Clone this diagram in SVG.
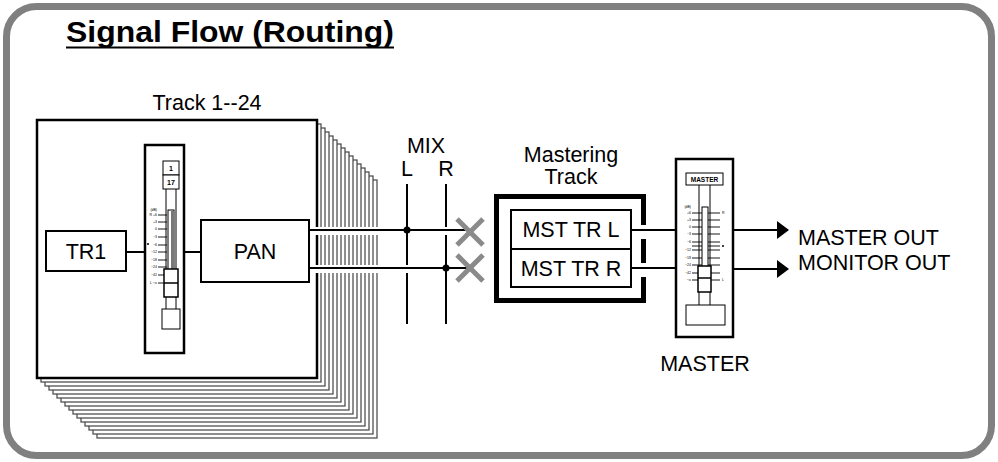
<svg xmlns="http://www.w3.org/2000/svg" width="998" height="462" viewBox="0 0 998 462">
<style>
text{font-family:"Liberation Sans",Arial,Helvetica,sans-serif;fill:#000}
.lbl{font-size:21.5px}
.mid{text-anchor:middle}
.tiny{font-size:3.5px}
.box{fill:#fff;stroke:#000;stroke-width:2}
.sheet{fill:#fff;stroke:#444;stroke-width:1.2}
.ln{stroke:#000;stroke-width:2;fill:none}
.thin{stroke:#000;stroke-width:1;fill:none}
.tick{stroke:#000;stroke-width:0.9}
.gap{fill:#fff;stroke:none}
.xm{stroke:#8a8a8a;stroke-width:5;stroke-linecap:butt}
</style>
<defs>
<marker id="arr" viewBox="0 0 12 18" refX="11" refY="9" markerWidth="12" markerHeight="18" markerUnits="userSpaceOnUse" orient="auto">
<path d="M0,0 L12,9 L0,18 Z" fill="#000"/>
</marker>
</defs>
<rect x="0" y="0" width="998" height="462" fill="#fff"/>
<rect x="6.5" y="6.5" width="985" height="449" rx="30" ry="30" fill="#fff" stroke="#808080" stroke-width="7"/>
<g id="title">
<text x="66" y="42" font-size="29" font-weight="bold" textLength="328" lengthAdjust="spacingAndGlyphs">Signal Flow (Routing)</text>
<line x1="66" y1="47.5" x2="394" y2="47.5" stroke="#000" stroke-width="2"/>
</g>
<g id="track">
<text class="lbl mid" x="207" y="110">Track 1--24</text>
<rect class="sheet" x="97" y="180" width="280" height="258"/>
<rect class="sheet" x="93" y="176" width="280" height="258"/>
<rect class="sheet" x="89" y="172" width="280" height="258"/>
<rect class="sheet" x="85" y="168" width="280" height="258"/>
<rect class="sheet" x="81" y="164" width="280" height="258"/>
<rect class="sheet" x="77" y="160" width="280" height="258"/>
<rect class="sheet" x="73" y="156" width="280" height="258"/>
<rect class="sheet" x="69" y="152" width="280" height="258"/>
<rect class="sheet" x="65" y="148" width="280" height="258"/>
<rect class="sheet" x="61" y="144" width="280" height="258"/>
<rect class="sheet" x="57" y="140" width="280" height="258"/>
<rect class="sheet" x="53" y="136" width="280" height="258"/>
<rect class="sheet" x="49" y="132" width="280" height="258"/>
<rect class="sheet" x="45" y="128" width="280" height="258"/>
<rect class="sheet" x="41" y="124" width="280" height="258"/>
<rect x="37" y="120" width="280" height="258" fill="#fff" stroke="#000" stroke-width="2.5"/>
</g>
<g id="tr1">
<rect class="box" x="46" y="231" width="80" height="40"/>
<text class="lbl mid" x="86" y="259">TR1</text>
</g>
<g id="track-fader">
<rect x="145" y="145" width="39" height="208" fill="#fff" stroke="#000" stroke-width="2.5"/>
<line class="thin" x1="166" y1="189" x2="166" y2="309"/>
<line class="thin" x1="176" y1="189" x2="176" y2="309"/>
<rect x="163" y="161" width="16" height="14" fill="#fff" stroke="#000" stroke-width="1"/>
<rect x="163" y="175" width="16" height="14" fill="#fff" stroke="#000" stroke-width="1"/>
<text x="171" y="171" font-size="7" font-weight="bold" text-anchor="middle">1</text>
<text x="171" y="185" font-size="7" font-weight="bold" text-anchor="middle">17</text>
<rect x="168" y="210" width="6" height="60" fill="#fff" stroke="#000" stroke-width="1"/>
<rect x="171" y="211" width="2.5" height="58" fill="#777"/>
<g class="tick">
<line x1="158" y1="215" x2="167" y2="215"/><line x1="158" y1="222" x2="167" y2="222"/>
<line x1="158" y1="229" x2="167" y2="229"/><line x1="158" y1="237" x2="167" y2="237"/>
<line x1="158" y1="245" x2="167" y2="245"/><line x1="158" y1="252" x2="167" y2="252"/>
<line x1="158" y1="260" x2="167" y2="260"/><line x1="158" y1="267" x2="167" y2="267"/>
<line x1="158" y1="275" x2="167" y2="275"/><line x1="158" y1="283" x2="167" y2="283"/>
</g>
<g class="tiny" text-anchor="end">
<text x="157" y="211">(dB)</text><text x="157" y="216">+6</text><text x="157" y="223">+3</text>
<text x="157" y="230">0</text><text x="157" y="238">−3</text><text x="157" y="246">−6</text>
<text x="157" y="253">−12</text><text x="157" y="261">−18</text><text x="157" y="268">−24</text>
<text x="157" y="276">−42</text><text x="157" y="284">−∞</text>
<text x="152" y="216">R</text><text x="152" y="284">L</text>
</g>
<circle cx="148" cy="244" r="1" fill="#000"/>
<rect x="164" y="269" width="14" height="28" fill="#fff" stroke="#000" stroke-width="1.5"/>
<line x1="164" y1="283" x2="178" y2="283" stroke="#000" stroke-width="1.5"/>
<rect x="162" y="309" width="18" height="20" fill="#fff" stroke="#000" stroke-width="1"/>
</g>
<g id="pan">
<rect class="box" x="201" y="220" width="108" height="62"/>
<text class="lbl mid" x="255" y="259">PAN</text>
</g>
<g id="mix">
<text class="lbl mid" x="426" y="153">MIX</text>
<text class="lbl mid" x="407" y="176">L</text>
<text class="lbl mid" x="446" y="176">R</text>
</g>
<g id="mastering-track">
<text class="lbl mid" x="571" y="162">Mastering</text>
<text class="lbl mid" x="571" y="184">Track</text>
<rect x="496.5" y="196.5" width="147" height="104" fill="#fff" stroke="#000" stroke-width="5"/>
<rect class="box" x="511" y="210" width="120" height="39"/>
<rect class="box" x="511" y="249" width="120" height="38"/>
<text class="lbl mid" x="571" y="237">MST TR L</text>
<text class="lbl mid" x="571" y="276">MST TR R</text>
</g>
<g id="master-fader">
<rect x="676" y="159" width="57" height="178" fill="#fff" stroke="#000" stroke-width="2.5"/>
<line class="thin" x1="699" y1="185" x2="699" y2="305"/>
<line class="thin" x1="710" y1="185" x2="710" y2="305"/>
<rect x="686" y="173" width="37" height="12" fill="#fff" stroke="#000" stroke-width="1"/>
<text x="704.5" y="182" font-size="6.5" font-weight="bold" text-anchor="middle">MASTER</text>
<rect x="702" y="207" width="6" height="60" fill="#fff" stroke="#000" stroke-width="1"/>
<g class="tick">
<line x1="692" y1="213" x2="702" y2="213"/><line x1="692" y1="220" x2="702" y2="220"/>
<line x1="692" y1="227" x2="702" y2="227"/><line x1="692" y1="234" x2="702" y2="234"/>
<line x1="692" y1="242" x2="702" y2="242"/><line x1="692" y1="250" x2="702" y2="250"/>
<line x1="692" y1="258" x2="702" y2="258"/><line x1="692" y1="265" x2="702" y2="265"/>
<line x1="692" y1="273" x2="702" y2="273"/><line x1="692" y1="280" x2="702" y2="280"/>
<line x1="708" y1="213" x2="720" y2="213"/><line x1="708" y1="220" x2="720" y2="220"/>
<line x1="708" y1="227" x2="720" y2="227"/><line x1="708" y1="234" x2="720" y2="234"/>
<line x1="708" y1="242" x2="720" y2="242"/><line x1="708" y1="250" x2="720" y2="250"/>
<line x1="708" y1="258" x2="720" y2="258"/><line x1="708" y1="265" x2="720" y2="265"/>
<line x1="708" y1="273" x2="720" y2="273"/><line x1="708" y1="280" x2="720" y2="280"/>
<line x1="692" y1="246" x2="702" y2="246"/><line x1="708" y1="246" x2="720" y2="246"/>
</g>
<g class="tiny" text-anchor="end">
<text x="691" y="208">(dB)</text><text x="691" y="214">+6</text><text x="691" y="221">+3</text>
<text x="691" y="228">0</text><text x="691" y="235">−3</text><text x="691" y="243">−6</text>
<text x="691" y="251">−12</text><text x="691" y="259">−18</text><text x="691" y="266">−24</text>
<text x="691" y="274">−42</text><text x="691" y="281">−∞</text>
</g>
<g class="tiny">
<text x="722" y="214">R</text><text x="722" y="281">L</text>
</g>
<circle cx="723" cy="246" r="1" fill="#000"/>
<rect x="698" y="266" width="13" height="26" fill="#fff" stroke="#000" stroke-width="1.5"/>
<line x1="698" y1="278" x2="711" y2="278" stroke="#000" stroke-width="1.5"/>
<rect x="686" y="305" width="39" height="20" fill="#fff" stroke="#000" stroke-width="1"/>
<text class="lbl mid" x="705" y="371">MASTER</text>
</g>
<g id="outputs">
<text class="lbl" x="798" y="245">MASTER OUT</text>
<text class="lbl" x="798" y="270">MONITOR OUT</text>
</g>
<g id="connectors">
<line class="ln" x1="126" y1="252" x2="145" y2="252"/>
<line class="ln" x1="184" y1="252" x2="201" y2="252"/>
<rect class="gap" x="310" y="227" width="72" height="8"/>
<rect class="gap" x="310" y="265" width="72" height="8"/>
<line class="ln" x1="407" y1="184" x2="407" y2="265"/>
<line class="ln" x1="407" y1="273" x2="407" y2="324"/>
<line class="ln" x1="446" y1="184" x2="446" y2="227"/>
<line class="ln" x1="446" y1="235" x2="446" y2="324"/>
<line class="ln" x1="309" y1="230" x2="467" y2="230"/>
<line class="ln" x1="309" y1="268" x2="467" y2="268"/>
<circle cx="407" cy="230" r="3.5" fill="#000"/>
<circle cx="446" cy="268" r="3.5" fill="#000"/>
<line class="xm" x1="457" y1="219" x2="483" y2="245"/>
<line class="xm" x1="483" y1="219" x2="457" y2="245"/>
<line class="xm" x1="457" y1="255" x2="483" y2="281"/>
<line class="xm" x1="483" y1="255" x2="457" y2="281"/>
<rect class="gap" x="640" y="225" width="8" height="14"/>
<rect class="gap" x="640" y="263" width="8" height="14"/>
<line class="ln" x1="631" y1="230" x2="676" y2="230"/>
<line class="ln" x1="631" y1="268" x2="676" y2="268"/>
<line class="ln" x1="733" y1="230" x2="788" y2="230" marker-end="url(#arr)"/>
<line class="ln" x1="733" y1="269" x2="788" y2="269" marker-end="url(#arr)"/>
</g>
</svg>
